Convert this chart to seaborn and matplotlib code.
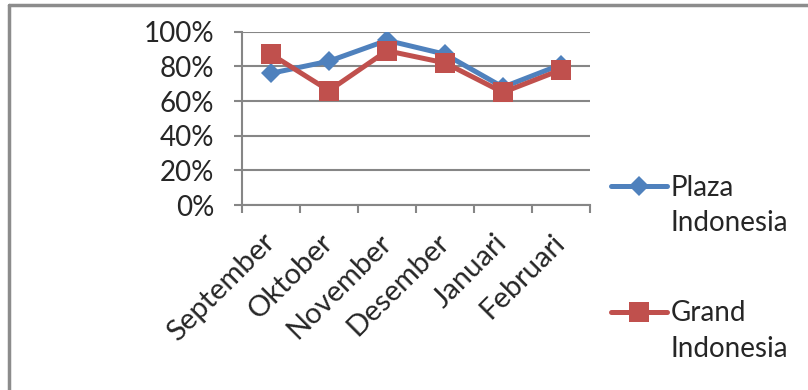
import numpy as np
import pandas as pd
import matplotlib
matplotlib.use('Agg')
import matplotlib.pyplot as plt
import seaborn as sns
from matplotlib.ticker import PercentFormatter

months = ['September', 'Oktober', 'November', 'Desember', 'Januari', 'Februari']
plaza = [76, 83, 95, 87, 68, 81]
grand = [87, 66, 89, 82, 65, 78]
series_names = ['Plaza\nIndonesia', 'Grand\nIndonesia']
y_ticks = [0, 20, 40, 60, 80, 100]

sns.set_style('white')
plt.rcParams['font.family'] = ['Lato', 'DejaVu Sans']

df = pd.DataFrame({'idx': np.arange(len(months)), 'plaza': plaza, 'grand': grand})

fig = plt.figure(figsize=(8.08, 3.90), dpi=100)
ax = fig.add_axes([242 / 808, 1 - 205 / 390, (590 - 242) / 808, (205 - 31.7) / 390])

grid_c = '#868686'
fs = 20
sns.lineplot(data=df, x='idx', y='plaza', ax=ax, color='#4F81BD', marker='D',
             markersize=10, linewidth=3.6, markeredgewidth=0, sort=False,
             label=series_names[0])
sns.lineplot(data=df, x='idx', y='grand', ax=ax, color='#C0504D', marker='s',
             markersize=14, linewidth=3.6, markeredgewidth=0, sort=False,
             label=series_names[1])

ax.set_xlim(-0.5, len(months) - 0.5)
ax.set_ylim(0, 100)
ax.set_yticks(y_ticks)
ax.yaxis.set_major_formatter(PercentFormatter(decimals=0))
ax.grid(axis='y', color=grid_c, linewidth=1.5)
ax.set_axisbelow(True)

ax.set_xticks(np.arange(len(months)))
ax.set_xticklabels(months, rotation=45, ha='right', va='center', rotation_mode='anchor')
ax.set_xticks(np.arange(len(months) + 1) - 0.5, minor=True)
ax.tick_params(axis='x', which='major', length=0, pad=24, labelsize=21)
ax.tick_params(axis='x', which='minor', length=6, width=1.5, color=grid_c, direction='out', bottom=True)
ax.tick_params(axis='y', length=6, width=1.5, color=grid_c, pad=14, labelsize=fs, left=True)
ax.set_xlabel('')
ax.set_ylabel('')

for s in ['top', 'right']:
    ax.spines[s].set_visible(False)
for s in ['left', 'bottom']:
    ax.spines[s].set_color(grid_c)
    ax.spines[s].set_linewidth(1.5)

leg = ax.legend(loc='upper left', bbox_to_anchor=(586 / 808, 1 - 150 / 390),
                bbox_transform=fig.transFigure, frameon=False, fontsize=fs,
                handlelength=2.0, handleheight=1.1, handletextpad=0.15, labelspacing=2.3)
for t in leg.get_texts():
    t.set_linespacing(1.45)
# put the marker next to the first line of each label
for col in leg._legend_handle_box.get_children():
    for row in col.get_children():
        row.align = 'top'

# chart frame (top and left edges visible)
fig.add_artist(plt.Line2D([9 / 808, 9 / 808], [0, 1 - 5 / 390], color='#8C8C8C', lw=2.5, transform=fig.transFigure))
fig.add_artist(plt.Line2D([9 / 808, 1], [1 - 5 / 390, 1 - 5 / 390], color='#8C8C8C', lw=2.5, transform=fig.transFigure))

fig.savefig('out.png', dpi=100)
